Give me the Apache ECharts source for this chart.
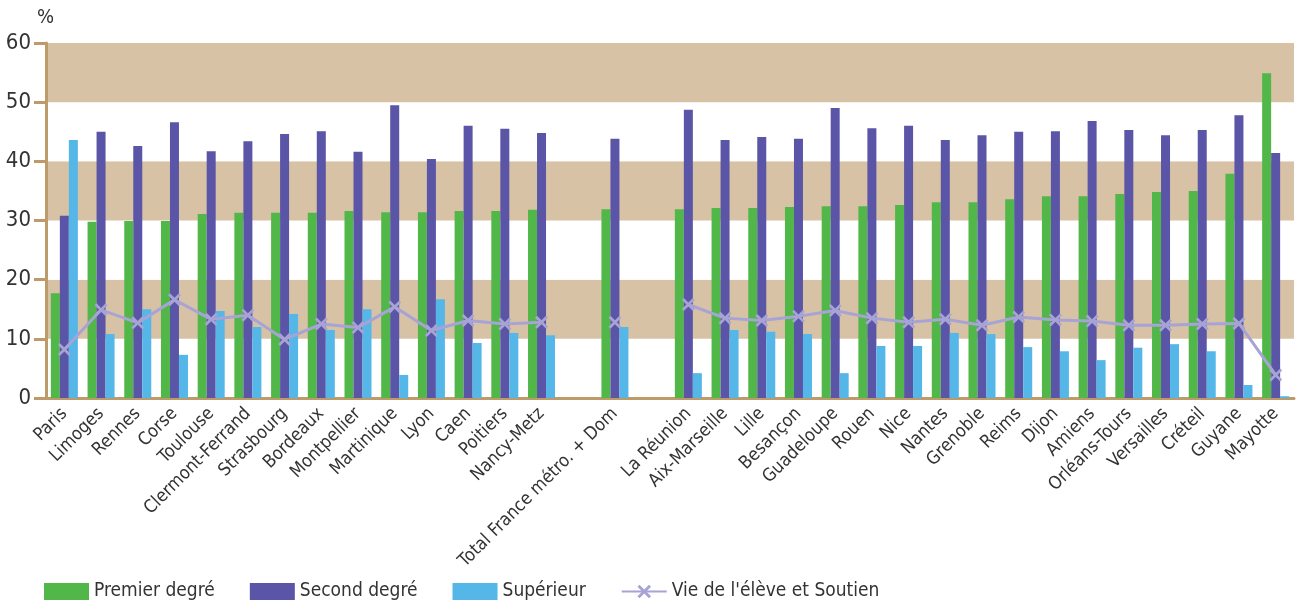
<!DOCTYPE html>
<html>
<head>
<meta charset="utf-8">
<script src="https://cdn.jsdelivr.net/npm/echarts@6/dist/echarts.min.js"></script>
<style>
  html, body { margin: 0; padding: 0; background: #ffffff; }
  #chart { width: 1296px; height: 604px; }
</style>
</head>
<body>
<div id="chart"></div>
<script>
const categories = ['Paris','Limoges','Rennes','Corse','Toulouse','Clermont-Ferrand','Strasbourg','Bordeaux','Montpellier','Martinique','Lyon','Caen','Poitiers','Nancy-Metz','','Total France métro. + Dom',' ','La Réunion','Aix-Marseille','Lille','Besançon','Guadeloupe','Rouen','Nice','Nantes','Grenoble','Reims','Dijon','Amiens','Orléans-Tours','Versailles','Créteil','Guyane','Mayotte'];
const premierDegre = [17.7, 29.8, 29.9, 29.9, 31.1, 31.3, 31.3, 31.3, 31.6, 31.4, 31.4, 31.6, 31.6, 31.8, null, 31.9, null, 31.9, 32.1, 32.1, 32.3, 32.4, 32.4, 32.6, 33.1, 33.1, 33.6, 34.1, 34.1, 34.5, 34.8, 35.0, 37.9, 54.9];
const secondDegre = [30.8, 45.0, 42.6, 46.6, 41.7, 43.4, 44.6, 45.1, 41.6, 49.5, 40.4, 46.0, 45.5, 44.8, null, 43.8, null, 48.7, 43.6, 44.1, 43.8, 49.0, 45.6, 46.0, 43.6, 44.4, 45.0, 45.1, 46.8, 45.3, 44.4, 45.3, 47.8, 41.4];
const superieur = [43.6, 10.8, 15.0, 7.3, 14.7, 12.0, 14.2, 11.5, 15.0, 3.9, 16.7, 9.3, 11.0, 10.6, null, 12.0, null, 4.2, 11.5, 11.2, 10.8, 4.2, 8.8, 8.8, 11.0, 10.8, 8.6, 7.9, 6.4, 8.5, 9.1, 7.9, 2.2, 0.3];
const vieEleve = [8.2, 14.9, 12.7, 16.6, 13.3, 14.0, 9.9, 12.5, 11.9, 15.4, 11.4, 13.1, 12.5, 12.8, null, 12.8, null, 15.8, 13.5, 13.1, 13.8, 14.8, 13.5, 12.8, 13.3, 12.3, 13.7, 13.2, 13.0, 12.3, 12.3, 12.5, 12.6, 3.9];
const seriesNames = ['Premier degré', 'Second degré', 'Supérieur', "Vie de l'élève et Soutien"];
const yMin = 0, yMax = 60, yStep = 10;

const FONT = "'Liberation Sans Narrow', 'DejaVu Sans Condensed', 'Roboto Condensed', 'Liberation Sans', sans-serif";
const TAN = '#d8c2a6';
const AXIS = '#bd9a6a';
const TXT = '#333333';
const xMark = 'path://M0,3 L3,0 L10,7 L17,0 L20,3 L13,10 L20,17 L17,20 L10,13 L3,20 L0,17 L7,10 Z';

const chart = echarts.init(document.getElementById('chart'), null, { renderer: 'canvas' });
chart.setOption({
  animation: false,
  backgroundColor: '#ffffff',
  textStyle: { fontFamily: FONT },
  grid: { left: 46, right: 2, top: 43, bottom: 206, containLabel: false },
  legend: {
    left: 39, top: 577,
    itemWidth: 45, itemHeight: 17, itemGap: 35,
    textStyle: { fontFamily: FONT, fontSize: 19, color: TXT },
    data: [
      { name: seriesNames[0], icon: 'rect' },
      { name: seriesNames[1], icon: 'rect' },
      { name: seriesNames[2], icon: 'rect' },
      { name: seriesNames[3] }
    ]
  },
  xAxis: {
    type: 'category',
    data: categories,
    boundaryGap: true,
    axisLine: { show: true, lineStyle: { color: AXIS, width: 3 } },
    axisTick: { show: false },
    axisLabel: { interval: 0, rotate: 45, margin: 13, fontFamily: FONT, fontSize: 18, color: TXT }
  },
  yAxis: {
    type: 'value',
    min: yMin, max: yMax, interval: yStep,
    name: '%',
    nameLocation: 'end',
    nameGap: 15,
    nameTextStyle: { fontFamily: FONT, fontSize: 20, color: TXT, align: 'right', padding: [0, -8, 0, 0] },
    axisLine: { show: true, lineStyle: { color: AXIS, width: 3 } },
    axisTick: { show: true, inside: false, length: 12, lineStyle: { color: AXIS, width: 3 } },
    axisLabel: { margin: 15, fontFamily: FONT, fontSize: 22, color: TXT, padding: [0, 0, 8, 0] },
    splitLine: { show: false },
    splitArea: { show: true, areaStyle: { color: ['#ffffff', TAN] } }
  },
  series: [
    { name: seriesNames[0], type: 'bar', data: premierDegre, barWidth: 9, barGap: '0%', itemStyle: { color: '#50b748' } },
    { name: seriesNames[1], type: 'bar', data: secondDegre, barWidth: 9, barGap: '0%', itemStyle: { color: '#5a55a6' } },
    { name: seriesNames[2], type: 'bar', data: superieur, barWidth: 9, barGap: '0%', itemStyle: { color: '#55b6e8' } },
    {
      name: seriesNames[3], type: 'line', data: vieEleve,
      connectNulls: false,
      symbol: xMark, symbolSize: 13, showAllSymbol: true,
      lineStyle: { color: '#a8a3d5', width: 3 },
      itemStyle: { color: '#a8a3d5' },
      z: 5
    }
  ]
});
</script>
</body>
</html>
